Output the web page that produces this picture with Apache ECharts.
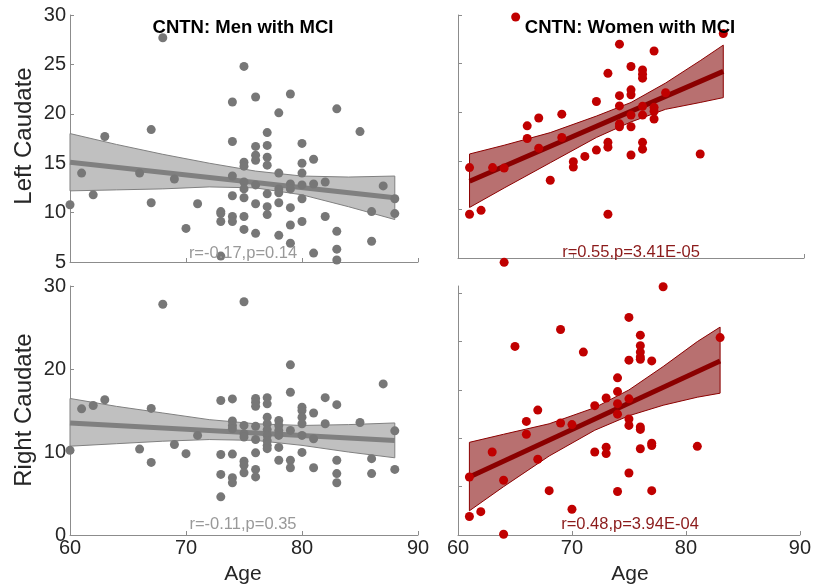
<!DOCTYPE html>
<html>
<head>
<meta charset="utf-8">
<script src="https://cdn.jsdelivr.net/npm/echarts@6/dist/echarts.min.js"></script>
<style>
html, body { margin: 0; background: #fff; }
#chart { width: 814px; height: 588px; }
</style>
</head>
<body>
<div id="chart"></div>
<script>
// points, [age, volume]
var menLeft = [
    [60,10.8],[61,14.0],[62,11.8],[63,17.7],[66,14.0],[67,18.4],[67,11.0],[68,27.7],[69,13.4],[70,8.4],[71,10.9],
    [73,10.1],[73,9.9],[73,9.1],[73,5.6],
    [74,21.2],[74,17.2],[74,13.7],[74,11.7],[74,9.6],[74,9.1],
    [75,24.8],[75,15.1],[75,14.7],[75,13.1],[75,12.4],[75,11.5],[75,9.6],[75,8.3],
    [76,21.7],[76,16.7],[76,15.8],[76,15.3],[76,12.8],[76,10.9],[76,7.9],
    [77,18.1],[77,16.8],[77,15.6],[77,14.8],[77,11.9],[77,10.6],[77,9.8],
    [78,20.1],[78,14.0],[78,12.4],[78,12.0],[78,11.0],[78,7.7],
    [79,22.0],[79,12.9],[79,12.4],[79,10.5],[79,8.75],[79,6.9],
    [80,17.0],[80,15.0],[80,14.0],[80,12.8],[80,11.4],[80,9.1],
    [81,15.4],[81,12.9],[81,5.9],[82,13.1],[82,9.6],
    [83,20.5],[83,8.1],[83,6.3],[83,5.2],[85,18.2],[86,10.1],[86,7.1],[87,12.7],[88,11.4],[88,9.9]
];
var menRight = [
    [60,10.2],[61,15.2],[62,15.6],[63,16.3],[66,10.35],[67,15.25],[67,8.75],[68,27.8],[69,10.9],[70,9.8],[71,12.0],
    [73,16.2],[73,9.7],[73,7.3],[73,4.6],
    [74,16.4],[74,13.75],[74,13.2],[74,12.8],[74,9.75],[74,6.9],[74,6.3],
    [75,28.1],[75,13.2],[75,12.2],[75,11.8],[75,8.9],[75,8.4],[75,7.5],
    [76,16.45],[76,16.0],[76,15.5],[76,13.1],[76,11.5],[76,9.9],[76,7.9],[76,7.0],
    [77,16.55],[77,15.8],[77,14.2],[77,13.4],[77,12.7],[77,12.0],[77,11.35],[77,10.8],[77,10.4],
    [78,13.8],[78,13.2],[78,12.6],[78,12.0],[78,10.55],[78,9.0],
    [79,20.5],[79,17.2],[79,12.6],[79,9.0],[79,8.1],
    [80,15.4],[80,15.0],[80,14.2],[80,13.4],[80,12.0],[80,9.95],
    [81,14.7],[81,11.6],[81,8.1],[82,16.55],[82,13.4],
    [83,15.7],[83,9.0],[83,7.4],[83,6.3],[85,13.55],[86,9.2],[86,7.4],[87,18.2],[88,12.55],[88,7.9]
];
var womenLeft = [
    [61,14.3],[61,9.5],[62,9.9],[63,14.3],[64,14.25],[64,4.55],[65,29.8],[66,18.6],[66,17.3],[67,19.4],[67,16.3],
    [68,13.0],[69,19.8],[69,17.4],[70,14.9],[70,14.35],[71,15.45],[72,21.1],[72,16.1],
    [73,24.0],[73,16.9],[73,16.4],[73,9.5],
    [74,27.0],[74,21.7],[74,20.65],[74,18.8],[74,18.5],
    [75,24.7],[75,22.3],[75,21.8],[75,19.7],[75,18.5],[75,15.6],
    [76,24.35],[76,23.9],[76,23.5],[76,20.6],[76,19.7],[76,16.9],[76,16.2],
    [77,26.3],[77,20.5],[77,20.1],[77,19.3],[78,22.0],[81,15.7],[83,28.1]
];
var womenRight = [
    [61,2.3],[61,7.2],[62,2.9],[63,10.3],[64,6.8],[64,0.1],[65,23.4],[66,14.1],[66,12.5],[67,15.5],[67,9.4],
    [68,5.5],[69,25.5],[69,13.9],[70,13.7],[70,3.2],[71,22.7],[72,16.05],[72,10.3],
    [73,17.0],[73,10.9],[73,10.1],
    [74,19.5],[74,17.8],[74,16.3],[74,15.0],[74,5.4],
    [75,27.0],[75,21.7],[75,16.9],[75,14.4],[75,13.6],[75,7.7],
    [76,24.8],[76,23.5],[76,22.7],[76,22.1],[76,21.8],[76,13.4],[76,13.1],[76,10.7],
    [77,21.6],[77,11.4],[77,11.1],[77,5.5],[78,30.8],[81,11.0],[83,24.5]
];

// fitted lines (end points) and confidence bands
var menLeftFit = [[60,15.1],[88,11.5]];
var menRightFit = [[60,13.5],[88,11.4]];
var womenLeftFit = [[61,12.9],[83,24.2]];
var womenRightFit = [[61,7.2],[83,21.6]];

var menBandAges = [60,64,68,72,76,80,84,88];
var menLeftUpper = [18.0,16.9,15.9,15.0,14.2,13.7,13.6,13.7];
var menLeftLower = [12.2,12.3,12.4,12.6,12.5,11.8,10.6,9.3];
var menRightUpper = [16.45,15.5,14.7,13.9,13.4,13.2,13.3,13.5];
var menRightLower = [10.7,11.0,11.3,11.5,11.4,10.8,10.0,9.3];

var womenBandAges = [61,64,68,72,75,78,81,83];
var womenLeftUpper = [15.7,16.6,17.9,19.6,21.0,23.0,25.3,26.9];
var womenLeftLower = [10.2,12.2,14.8,17.4,19.0,20.3,21.0,21.5];
var womenRightUpper = [11.5,12.5,13.8,15.8,18.0,20.9,24.0,25.8];
var womenRightLower = [3.0,6.0,9.8,13.0,14.8,16.1,17.1,17.6];

var ageTicks = [60, 70, 80, 90];
var topTicks = [5, 10, 15, 20, 25, 30];
var bottomTicksLeft = [0, 10, 20, 30];
var bottomTicksRight = [0, 6, 12, 18, 24, 30];

var FONT = '"Liberation Sans", Arial, sans-serif';
var axisGrey = '#8c8c8c';

function xAx(grid, showLabels) {
    return {
        type: 'value', gridIndex: grid, min: 60, max: 90,
        axisLine: { lineStyle: { color: axisGrey } },
        axisTick: { inside: true, length: 4, customValues: ageTicks, lineStyle: { color: axisGrey } },
        axisLabel: { show: showLabels, customValues: ageTicks, color: '#262626', fontSize: 20, fontFamily: FONT, margin: 3 },
        splitLine: { show: false }
    };
}
function yAx(grid, min, max, ticks, showLabels) {
    return {
        type: 'value', gridIndex: grid, min: min, max: max,
        axisLine: { show: true, lineStyle: { color: axisGrey } },
        axisTick: { show: true, inside: true, length: 4, customValues: ticks, lineStyle: { color: axisGrey } },
        axisLabel: { show: showLabels, customValues: ticks, color: '#262626', fontSize: 20, fontFamily: FONT, margin: 4 },
        splitLine: { show: false }
    };
}

function band(idx, ages, lo, hi, fill, edge) {
    return {
        type: 'custom', xAxisIndex: idx, yAxisIndex: idx, silent: true, z: 2,
        data: [[ages[0], lo[0]]],
        renderItem: function (params, api) {
            var up = ages.map(function (a, i) { return api.coord([a, hi[i]]); });
            var dn = ages.map(function (a, i) { return api.coord([a, lo[i]]); });
            return {
                type: 'polygon',
                shape: { points: up.concat(dn.slice().reverse()) },
                style: { fill: fill, stroke: edge, lineWidth: 1 }
            };
        }
    };
}
function fit(idx, pts, color) {
    return { type: 'line', xAxisIndex: idx, yAxisIndex: idx, data: pts, symbol: 'none', silent: true, z: 3,
        lineStyle: { color: color, width: 5 } };
}
function dots(idx, pts, color) {
    return { type: 'scatter', xAxisIndex: idx, yAxisIndex: idx, data: pts, symbolSize: 9, clip: false, silent: true, z: 4,
        itemStyle: { color: color, opacity: 1 } };
}
function label(x, y, text, size, color, weight, rot) {
    return { type: 'text', x: x, y: y, rotation: rot || 0, z: 10,
        style: { text: text, fontSize: size, fontFamily: FONT, fontWeight: weight || 'normal', fill: color,
            align: 'center', verticalAlign: 'middle', textAlign: 'center', textVerticalAlign: 'middle' } };
}

var grey = '#777777', greyLine = '#808080', greyFill = '#c0c0c0';
var red = '#c00000', redLine = '#8b0000', redFill = '#b87070', redEdge = '#8b0000';

var chart = echarts.init(document.getElementById('chart'));
chart.setOption({
    animation: false,
    grid: [
        { left: 70, right: 396, top: 15, bottom: 326 },
        { left: 458, right: 10, top: 15, bottom: 330 },
        { left: 70, right: 396, top: 286, bottom: 53 },
        { left: 458, right: 10, top: 286, bottom: 53 }
    ],
    xAxis: [xAx(0, false), xAx(1, false), xAx(2, true), xAx(3, true)],
    yAxis: [
        yAx(0, 5, 30, topTicks, true),
        yAx(1, 5, 30, topTicks, false),
        yAx(2, 0, 30, bottomTicksLeft, true),
        yAx(3, 0, 30.9, bottomTicksRight, false)
    ],
    series: [
        band(0, menBandAges, menLeftLower, menLeftUpper, greyFill, greyLine),
        fit(0, menLeftFit, greyLine),
        dots(0, menLeft, grey),
        band(1, womenBandAges, womenLeftLower, womenLeftUpper, redFill, redEdge),
        fit(1, womenLeftFit, redLine),
        dots(1, womenLeft, red),
        band(2, menBandAges, menRightLower, menRightUpper, greyFill, greyLine),
        fit(2, menRightFit, greyLine),
        dots(2, menRight, grey),
        band(3, womenBandAges, womenRightLower, womenRightUpper, redFill, redEdge),
        fit(3, womenRightFit, redLine),
        dots(3, womenRight, red)
    ],
    graphic: [
        label(243, 28, 'CNTN: Men with MCI', 18.5, '#000', 'bold'),
        label(630, 28, 'CNTN: Women with MCI', 18.5, '#000', 'bold'),
        label(243, 253, 'r=-0.17,p=0.14', 16.5, '#999999'),
        label(631, 252, 'r=0.55,p=3.41E-05', 16.5, '#8b1a1a'),
        label(243, 524, 'r=-0.11,p=0.35', 16.5, '#999999'),
        label(630, 524, 'r=0.48,p=3.94E-04', 16.5, '#8b1a1a'),
        label(24, 136, 'Left Caudate', 24, '#262626', 'normal', Math.PI / 2),
        label(24, 410, 'Right Caudate', 24, '#262626', 'normal', Math.PI / 2),
        label(243, 574, 'Age', 21, '#262626'),
        label(630, 574, 'Age', 21, '#262626')
    ]
});
</script>
</body>
</html>
